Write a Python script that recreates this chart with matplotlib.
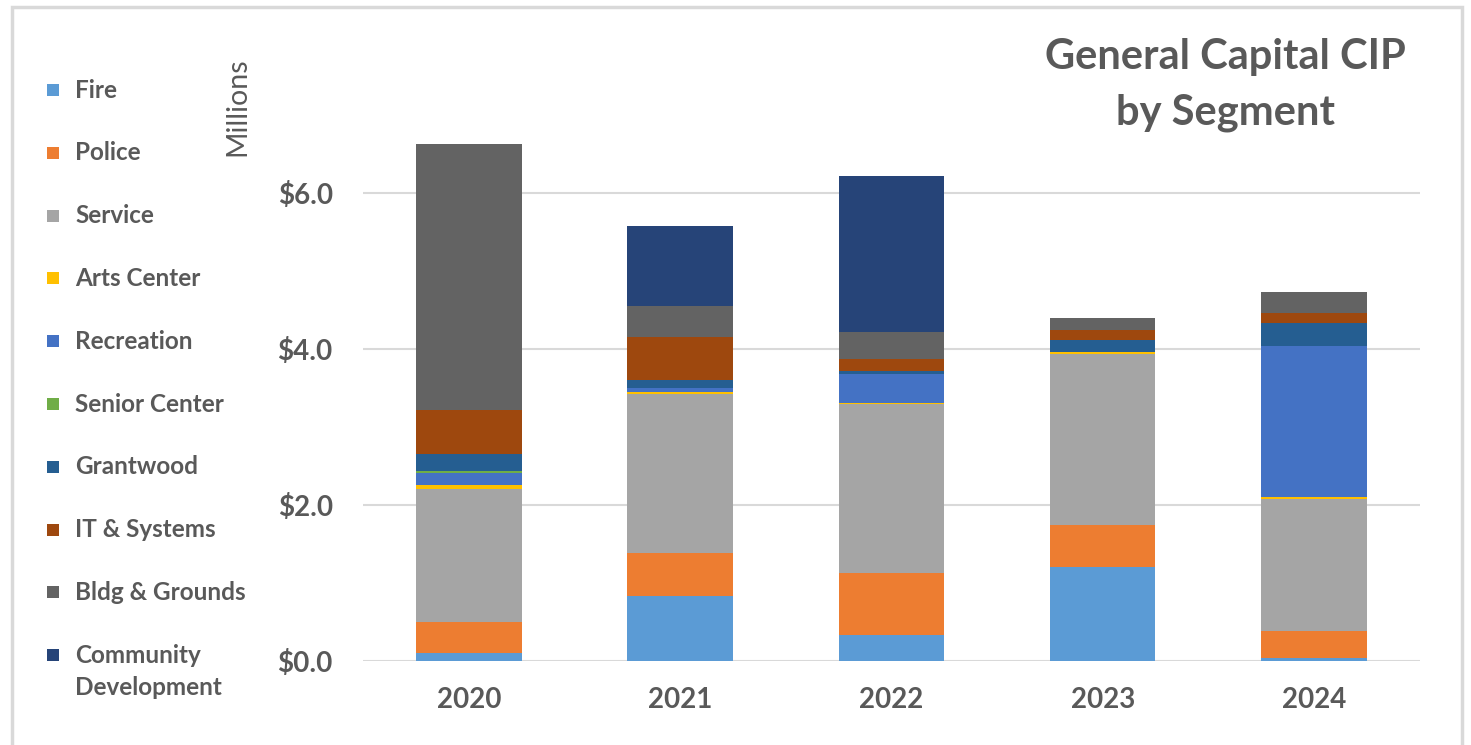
import matplotlib
matplotlib.use("Agg")
import matplotlib.pyplot as plt
from matplotlib.patches import Rectangle
import numpy as np

plt.rcParams['font.family'] = ['Lato', 'DejaVu Sans']

years = ['2020', '2021', '2022', '2023', '2024']

# values in $ millions
fire = [0.10, 0.83, 0.33, 1.20, 0.04]
police = [0.40, 0.55, 0.80, 0.54, 0.35]
service = [1.70, 2.04, 2.16, 2.19, 1.69]
arts_center = [0.06, 0.03, 0.02, 0.03, 0.02]
recreation = [0.15, 0.05, 0.37, 0.00, 1.94]
senior_center = [0.03, 0.00, 0.00, 0.00, 0.00]
grantwood = [0.21, 0.10, 0.03, 0.15, 0.29]
it_systems = [0.56, 0.55, 0.16, 0.13, 0.13]
bldg_grounds = [3.41, 0.40, 0.35, 0.15, 0.27]
community_dev = [0.00, 1.02, 1.99, 0.00, 0.00]

segments = ['Fire', 'Police', 'Service', 'Arts Center', 'Recreation', 'Senior Center',
            'Grantwood', 'IT & Systems', 'Bldg & Grounds', 'Community\nDevelopment']
series = [fire, police, service, arts_center, recreation, senior_center,
          grantwood, it_systems, bldg_grounds, community_dev]
seg_colors = ['#5B9BD5', '#ED7D31', '#A5A5A5', '#FFC000', '#4472C4', '#70AD47',
              '#255E91', '#9E480E', '#636363', '#264478']

txt = '#595959'
W, H = 1471, 745

fig = plt.figure(figsize=(W / 100, H / 100), dpi=100)
ax = fig.add_axes([0.247, 0.1128, 0.718, 0.796])

x = np.arange(len(years))
bottom = np.zeros(len(years))
for name, vals, c in zip(segments, series, seg_colors):
    ax.bar(x, vals, 0.5, bottom=bottom, color=c, label=name, zorder=3)
    bottom += np.array(vals)

ax.set_xlim(-0.5, len(years) - 0.5)
ax.set_ylim(0, 7.6)
ax.set_yticks([0, 2, 4, 6])
ax.set_yticklabels(['$%.1f' % v for v in [0, 2, 4, 6]])
ax.set_xticks(x)
ax.set_xticklabels(years)
ax.yaxis.grid(True, color='#d9d9d9', linewidth=1.5, zorder=0)
ax.tick_params(length=0)
ax.tick_params(axis='y', pad=22)
ax.tick_params(axis='x', pad=19)
for lab in ax.get_xticklabels() + ax.get_yticklabels():
    lab.set_fontsize(20)
    lab.set_fontweight('bold')
    lab.set_color(txt)
for s in ax.spines.values():
    s.set_visible(False)

fig.text(237 / W, 1 - 107 / H, 'Millions', rotation=90, ha='center', va='center',
         fontsize=20.5, color=txt)
fig.text(1225 / W, 1 - 85 / H, 'General Capital CIP\nby Segment', ha='center', va='center',
         fontsize=30, fontweight='bold', color=txt, linespacing=1.55)

# legend drawn entry by entry, one row per segment
row_y = [90 + 62.8 * i for i in range(len(segments))]
for name, c, ry in zip(segments, seg_colors, row_y):
    fig.patches.append(Rectangle((47 / W, 1 - (ry + 6) / H), 12 / W, 12 / H,
                                 transform=fig.transFigure, facecolor=c, edgecolor='none'))
    if '\n' in name:
        fig.text(75 / W, 1 - (ry - 11) / H, name, ha='left', va='top', fontsize=17.5,
                 fontweight='bold', color=txt, linespacing=1.45)
    else:
        fig.text(75 / W, 1 - ry / H, name, ha='left', va='center', fontsize=17.5,
                 fontweight='bold', color=txt)

# light outer frame
fig.patches.append(Rectangle((12 / W, -0.02), (1462 - 12) / W, 1 - 7 / H + 0.02,
                             transform=fig.transFigure, fill=False,
                             edgecolor='#d9d9d9', linewidth=2.5))

plt.savefig('out.png', dpi=100)
